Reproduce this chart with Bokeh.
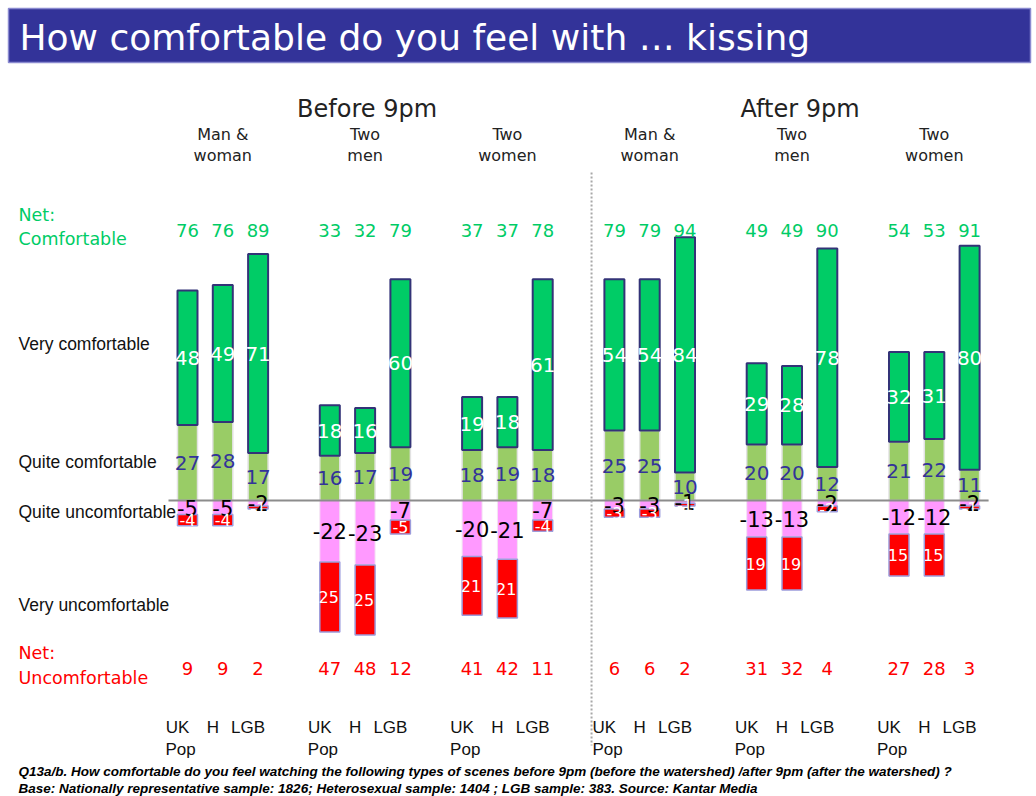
from bokeh.plotting import figure
from bokeh.models import ColumnDataSource, Range1d
from bokeh.core.properties import value
from bokeh.embed import file_html
from bokeh.resources import INLINE

# ---- data -------------------------------------------------------------
title = "How comfortable do you feel with \u2026 kissing"
periods = ["Before 9pm", "After 9pm"]
couples = ["Man &\nwoman", "Two\nmen", "Two\nwomen"]
samples = ["UK\nPop", "H", "LGB"]

# order: Before (M&W, Two men, Two women), After (M&W, Two men, Two women);
# inside each couple: UK Pop, H, LGB
very_comfortable = [48, 49, 71, 18, 16, 60, 19, 18, 61,
                    54, 54, 84, 29, 28, 78, 32, 31, 80]
quite_comfortable = [27, 28, 17, 16, 17, 19, 18, 19, 18,
                     25, 25, 10, 20, 20, 12, 21, 22, 11]
quite_uncomfortable = [-5, -5, -2, -22, -23, -7, -20, -21, -7,
                       -3, -3, -1, -13, -13, -2, -12, -12, -2]
very_uncomfortable = [-4, -4, -1, -25, -25, -5, -21, -21, -4,
                      -3, -3, -1, -19, -19, -2, -15, -15, -1]
net_comfortable = [76, 76, 89, 33, 32, 79, 37, 37, 78,
                   79, 79, 94, 49, 49, 90, 54, 53, 91]
net_uncomfortable = [9, 9, 2, 47, 48, 12, 41, 42, 11,
                     6, 6, 2, 31, 32, 4, 27, 28, 3]

row_labels = ["Very comfortable", "Quite comfortable",
              "Quite uncomfortable", "Very uncomfortable"]
footnotes = [
    "Q13a/b. How comfortable do you feel watching the following types of scenes "
    "before 9pm (before the watershed) /after 9pm (after the watershed) ?",
    "Base: Nationally representative sample: 1826; Heterosexual sample: 1404 ; "
    "LGB sample: 383.  Source: Kantar Media",
]

# ---- layout -------------------------------------------------------------
W, H = 1036, 796
BASE_PX = 500          # zero line, pixels from the top
PX_PER_UNIT = 2.8      # vertical pixels per percentage point


def row(px):
    """Vertical data position of a row given in pixels from the top."""
    return (BASE_PX - px) / PX_PER_UNIT


n_groups = len(periods) * len(couples)
xs = [187 + g * 142.3 + m * 35.3 for g in range(n_groups) for m in range(len(samples))]
BAR_W = 20

GREEN = "#00CC66"
LIGHT_GREEN = "#99CC66"
PINK = "#FF99FF"
RED = "#FF0000"
NAVY = "#333399"
FONT = value("DejaVu Sans")
FONT2 = value("Liberation Sans")

p = figure(width=W, height=H, x_range=Range1d(0, W),
           y_range=Range1d((BASE_PX - H) / PX_PER_UNIT, BASE_PX / PX_PER_UNIT),
           x_axis_location=None, y_axis_location=None,
           toolbar_location=None, output_backend="svg", min_border=0)
p.grid.visible = False
p.outline_line_color = None
p.background_fill_color = "white"
p.border_fill_color = "white"

# ---- title band -----------------------------------------------------------
p.quad(left=[8], right=[1030], top=[row(8)], bottom=[row(62)],
       fill_color=NAVY, line_color="#8a8ad0", line_width=1.5)
p.text(x=[19], y=[row(37)], text=[title], text_color="white",
       text_font=FONT, text_font_size="36px", text_baseline="middle")

# ---- stacked bars -------------------------------------------------------
qc_top = quite_comfortable
vc_top = [a + b for a, b in zip(quite_comfortable, very_comfortable)]
qu_bot = quite_uncomfortable
vu_bot = [a + b for a, b in zip(quite_uncomfortable, very_uncomfortable)]
zeros = [0] * len(xs)

src = ColumnDataSource(dict(x=xs, qc_top=qc_top, vc_top=vc_top,
                            qu_bot=qu_bot, vu_bot=vu_bot, zero=zeros))

p.vbar(x="x", width=BAR_W, bottom="zero", top="qc_top", source=src,
       fill_color=LIGHT_GREEN, line_color="#e2e2e2", line_width=1.5)
p.vbar(x="x", width=BAR_W, bottom="qc_top", top="vc_top", source=src,
       fill_color=GREEN, line_color="#333377", line_width=2)
p.vbar(x="x", width=BAR_W, bottom="qu_bot", top="zero", source=src,
       fill_color=PINK, line_color="#f3e6f3", line_width=1)
p.vbar(x="x", width=BAR_W, bottom="vu_bot", top="qu_bot", source=src,
       fill_color=RED, line_color="#9c9cdc", line_width=1.5)

# zero line
p.segment(x0=[xs[0] - 19], x1=[xs[-1] + 19], y0=[0], y1=[0],
          line_color="#8c8c8c", line_width=2)

# divider between the two time slots
div_x = (xs[8] + xs[9]) / 2 + 13
p.segment(x0=[div_x], x1=[div_x], y0=[row(172)], y1=[row(745)],
          line_color="#a8a8a8", line_width=2, line_dash="2 2")

# ---- segment value labels -------------------------------------------------
def seg_labels(bottoms, tops, vals, color, size, shift_minus=False):
    ys = [(b + t) / 2 for b, t in zip(bottoms, tops)]
    texts = [str(v) for v in vals]
    # two-digit negatives: keep the digits centred on the bar
    lx = [x - (4 if shift_minus and len(t) > 2 else 0) for x, t in zip(xs, texts)]
    p.text(x=lx, y=ys, text=texts, text_color=color,
           text_font=FONT, text_font_size=size,
           text_align="center", text_baseline="middle")


seg_labels(zeros, qc_top, quite_comfortable, NAVY, "20px")
seg_labels(qc_top, vc_top, very_comfortable, "white", "20px")
seg_labels(qu_bot, zeros, quite_uncomfortable, "black", "21px")
seg_labels(vu_bot, qu_bot, very_uncomfortable, "white", "16px", shift_minus=True)

# ---- net rows -------------------------------------------------------------
p.text(x=xs, y=[row(230)] * len(xs), text=[str(v) for v in net_comfortable],
       text_color=GREEN, text_font=FONT, text_font_size="18px",
       text_align="center", text_baseline="middle")
p.text(x=xs, y=[row(668)] * len(xs), text=[str(v) for v in net_uncomfortable],
       text_color=RED, text_font=FONT, text_font_size="18px",
       text_align="center", text_baseline="middle")

# ---- left hand row labels --------------------------------------------------
p.text(x=[18, 18], y=[row(214), row(238)], text=["Net:", "Comfortable"],
       text_color=GREEN, text_font=FONT, text_font_size="17.5px",
       text_baseline="middle")
p.text(x=[18, 18], y=[row(652), row(677)], text=["Net:", "Uncomfortable"],
       text_color=RED, text_font=FONT, text_font_size="17.5px",
       text_baseline="middle")
p.text(x=[18] * 4, y=[row(343), row(461), row(511), row(604)], text=row_labels,
       text_color="#111111", text_font=FONT2, text_font_size="17.5px",
       text_baseline="middle")

# ---- column headings -------------------------------------------------------
mid_h = [xs[g * 3 + 1] for g in range(n_groups)]
p.text(x=[mid_h[1] + 2, mid_h[4] + 8], y=[row(108)] * 2, text=periods,
       text_color="#222222", text_font=FONT, text_font_size="24px",
       text_align="center", text_baseline="middle")
couple_lines = [c.split("\n") for c in couples] * len(periods)
p.text(x=mid_h, y=[row(134)] * n_groups, text=[c[0] for c in couple_lines],
       text_color="#222222", text_font=FONT, text_font_size="16px",
       text_align="center", text_baseline="middle")
p.text(x=mid_h, y=[row(155)] * n_groups, text=[c[1] for c in couple_lines],
       text_color="#222222", text_font=FONT, text_font_size="16px",
       text_align="center", text_baseline="middle")

# ---- sample labels under each bar ------------------------------------------
first = [s.split("\n")[0] for s in samples] * n_groups
p.text(x=[x - 10 for x in xs], y=[row(727)] * len(xs), text=first,
       text_color="#111111", text_font=FONT2, text_font_size="17px",
       text_align="center", text_baseline="middle")
uk_x = [xs[g * 3] - 22 for g in range(n_groups)]
p.text(x=uk_x, y=[row(749)] * n_groups,
       text=[samples[0].split("\n")[1]] * n_groups,
       text_color="#111111", text_font=FONT2, text_font_size="17px",
       text_baseline="middle")

# ---- footnote ---------------------------------------------------------------
p.text(x=[18, 18], y=[row(771), row(788)], text=footnotes,
       text_color="black", text_font=FONT2, text_font_size="13.5px",
       text_font_style="bold italic", text_baseline="middle")

open("out.html", "w").write(file_html(p, INLINE))
